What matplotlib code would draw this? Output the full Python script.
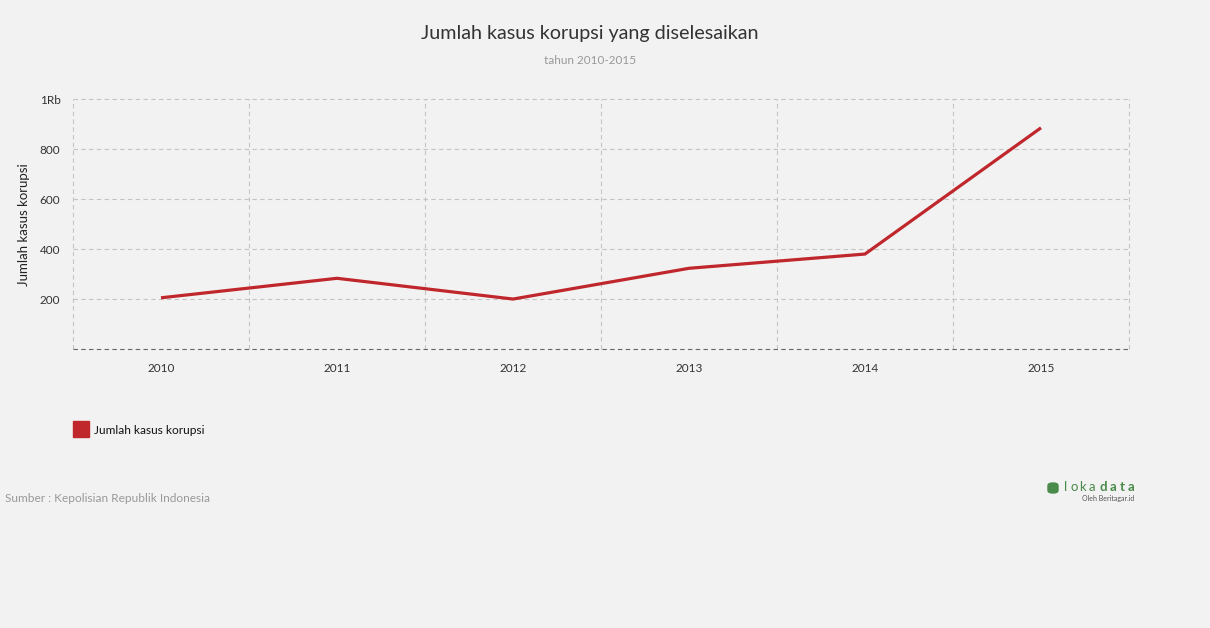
import matplotlib.pyplot as plt
from matplotlib.patches import Rectangle, FancyBboxPatch

years = ['2010', '2011', '2012', '2013', '2014', '2015']
kasus = [206, 284, 201, 324, 381, 886]
y_ticks = [200, 400, 600, 800, 1000]
y_tick_labels = ['200', '400', '600', '800', '1Rb']

bg = '#f2f2f2'
red = '#c0272d'
green = '#4a8a4a'
plt.rcParams['font.family'] = ['Lato', 'DejaVu Sans']

fig = plt.figure(figsize=(12.1, 6.28), dpi=100, facecolor=bg)
ax = fig.add_axes([73 / 1210, 1 - 349.3 / 628, 1056 / 1210, 250 / 628])
ax.set_facecolor(bg)

x = list(range(len(years)))
ax.plot(x, kasus, color=red, lw=2.3, solid_capstyle='butt', zorder=3)

ax.set_xlim(-0.5, len(years) - 0.5)
ax.set_ylim(0, 1000)
ax.set_xticks(x)
ax.set_xticklabels(years)
ax.set_yticks(y_ticks)
ax.set_yticklabels(y_tick_labels)
ax.tick_params(length=0, labelsize=8.5, labelcolor='#333333')
ax.tick_params(axis='x', pad=10)
ax.tick_params(axis='y', pad=9)

# grid: horizontal at ticks, vertical at category boundaries
for v in y_ticks:
    ax.axhline(v, color='#c4c4c4', lw=0.8, ls=(0, (4, 3)), zorder=1, clip_on=False)
for b in [i - 0.5 for i in range(len(years) + 1)]:
    ax.axvline(b, color='#c4c4c4', lw=0.8, ls=(0, (4, 3)), zorder=1, clip_on=False)
ax.axhline(0, color='#666666', lw=0.8, ls=(0, (4, 3)), zorder=2, clip_on=False)
for s in ax.spines.values():
    s.set_visible(False)

ax.set_ylabel('Jumlah kasus korupsi', fontsize=9.5, color='#222222', labelpad=7)

fig.text(590 / 1210, 1 - 33 / 628, 'Jumlah kasus korupsi yang diselesaikan', ha='center', va='center',
         fontsize=14.2, color='#333333')
fig.text(590 / 1210, 1 - 61 / 628, 'tahun 2010-2015', ha='center', va='center', fontsize=8.5,
         color='#999999')

# legend
fig.patches.append(Rectangle((73 / 1210, 1 - 437 / 628), 16 / 1210, 16 / 628,
                             transform=fig.transFigure, color=red))
fig.text(94 / 1210, 1 - 430 / 628, 'Jumlah kasus korupsi', va='center', fontsize=8.6, color='#111111')

fig.text(5 / 1210, 1 - 498 / 628, 'Sumber : Kepolisian Republik Indonesia', va='center',
         fontsize=8.6, color='#999999')

# logo
fig.patches.append(FancyBboxPatch((1048 / 1210, 1 - 493 / 628), 10 / 1210, 10 / 628,
                                  boxstyle='round,pad=0,rounding_size=0.004',
                                  transform=fig.transFigure, color=green))
for i, ch in enumerate('loka'):
    fig.text((1066 + i * 8.5) / 1210, 1 - 487 / 628, ch, va='center', ha='center', fontsize=9.5,
             color=green)
for i, ch in enumerate('data'):
    fig.text((1103 + i * 9.5) / 1210, 1 - 487 / 628, ch, va='center', ha='center', fontsize=9.5,
             color=green, fontweight='bold')
fig.text(1134 / 1210, 1 - 498 / 628, 'Oleh Beritagar.id', va='center', ha='right', fontsize=5,
         color='#555555')

fig.savefig('out.png', dpi=100, facecolor=bg)
